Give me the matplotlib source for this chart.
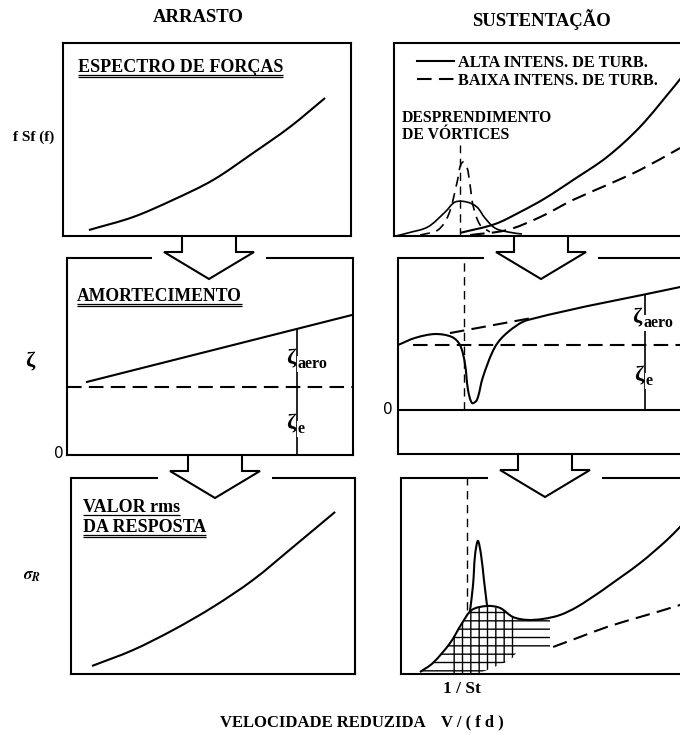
import matplotlib.pyplot as plt
import numpy as np
from matplotlib.path import Path
from matplotlib.patches import PathPatch
from matplotlib.lines import Line2D

plt.rcParams['font.family'] = 'Liberation Serif'
plt.rcParams['font.weight'] = 'bold'
plt.rcParams['mathtext.fontset'] = 'stix'
plt.rcParams['hatch.linewidth'] = 1.0

# reduced velocity of vortex shedding (1/St)
V_ST = 2.3

# ---- ARRASTO (drag) ----
drag_force_v = [0.90, 2.43, 3.82, 5.21, 6.60, 7.88, 9.10]
drag_force_s = [0.31, 0.98, 1.87, 2.90, 4.30, 5.65, 7.15]

drag_damp_v = [0.70, 10.0]
drag_damp_z = [3.71, 7.12]
drag_struct_z = 3.45
drag_marker_v = 8.04

drag_resp_v = [0.74, 2.18, 3.59, 5.00, 6.41, 7.82, 9.30]
drag_resp_s = [0.41, 1.22, 2.24, 3.42, 4.80, 6.48, 8.27]

# ---- SUSTENTAÇÃO (lift) ----
# force spectrum: shedding hump and buffeting part, high / low turbulence
lift_hump_hi_v = [0.07, 0.49, 1.18, 1.78, 2.13, 2.54, 2.89, 3.17, 3.52, 3.97, 4.46]
lift_hump_hi_s = [0.00, 0.16, 0.47, 1.24, 1.76, 1.76, 1.50, 0.93, 0.41, 0.21, 0.10]
lift_peak_lo_v = [0.91, 1.53, 1.90, 2.20, 2.30, 2.40, 2.54, 2.65, 2.75, 3.00, 3.34]
lift_peak_lo_s = [0.05, 0.31, 1.10, 2.80, 3.58, 3.83, 3.58, 2.64, 1.61, 0.57, 0.21]
lift_buff_hi_v = [2.30, 3.52, 4.39, 5.26, 6.24, 7.42, 8.57, 9.72, 10.0]
lift_buff_hi_s = [0.16, 0.62, 1.24, 1.95, 2.90, 4.09, 5.65, 7.67, 8.19]
lift_buff_lo_v = [2.65, 3.94, 5.09, 6.24, 7.42, 8.57, 9.97]
lift_buff_lo_s = [0.05, 0.31, 0.98, 1.87, 2.64, 3.42, 4.56]

# damping
lift_damp_v = [0.00, 0.59, 1.29, 1.88, 2.16, 2.33, 2.44, 2.58, 2.75, 2.96, 3.38, 3.83, 4.53, 10.0]
lift_damp_z = [5.56, 5.92, 6.12, 5.97, 5.56, 4.64, 3.27, 2.60, 2.76, 3.93, 5.46, 6.22, 6.84, 8.57]
lift_damp_lo_v = [1.81, 4.67]
lift_damp_lo_z = [6.17, 6.94]
lift_struct_z = 5.56
lift_zero_z = 2.24
lift_marker_v = 8.61

# rms response
lift_resp_hi_v = [0.66, 1.11, 1.71, 2.13, 2.47, 3.00, 3.45, 3.90, 4.39, 4.95, 5.54,
                  6.13, 6.93, 7.18, 8.33, 9.27, 9.72, 10.0]
lift_resp_hi_s = [0.10, 0.56, 1.58, 2.60, 3.27, 3.47, 3.37, 2.91, 2.76, 2.81, 3.01,
                  3.42, 4.18, 4.44, 5.66, 6.84, 7.50, 7.91]
lift_spike_v = [2.40, 2.51, 2.58, 2.68, 2.79, 2.89, 3.00]
lift_spike_s = [3.16, 4.54, 6.07, 6.79, 6.07, 4.80, 3.47]
lift_resp_lo_v = [5.30, 6.24, 7.18, 8.33, 9.72, 10.0]
lift_resp_lo_s = [1.38, 1.89, 2.40, 2.91, 3.52, 3.70]

# hatched band under the shedding response
hatch_v = [0.66, 1.11, 1.71, 2.13, 2.47, 2.65, 3.00, 3.45, 3.80, 3.90, 4.04, 4.39, 4.95, 5.19]
hatch_top = [0.10, 0.56, 1.58, 2.60, 3.27, 3.38, 3.47, 3.37, 3.05, 2.91, 2.86, 2.76, 2.81, 2.90]
hatch_bot = [0.00, 0.00, 0.00, 0.00, 0.00, 0.00, 0.20, 0.48, 0.71, 0.85, 1.12, 1.20, 1.30, 1.33]

W, H = 680, 733
LW = 1.5
DASH = (0, (7, 3.5))
FINE_DASH = (0, (6, 4))

fig = plt.figure(figsize=(W / 100, H / 100), dpi=100)


def panel(x0, y0, x1, y1, top=True, right=True):
    ax = fig.add_axes([x0 / W, 1 - y1 / H, (x1 - x0) / W, (y1 - y0) / H])
    ax.set_xlim(0, 10)
    ax.set_ylim(0, 10)
    ax.set_xticks([])
    ax.set_yticks([])
    for s in ax.spines.values():
        s.set_linewidth(LW)
    ax.spines['top'].set_visible(top)
    ax.spines['right'].set_visible(right)
    ax.patch.set_alpha(0)
    return ax


def smooth(ax, v, s, lw=LW, ls='-'):
    # chord-length Catmull-Rom through the points, as cubic Bezier segments
    p = np.column_stack([v, s]).astype(float)
    q = p * [1.47, 1.0]          # roughly equal pixel scale for both axes
    t = np.concatenate([[0], np.cumsum(np.hypot(*np.diff(q, axis=0).T))])
    n = len(p)
    tang = np.zeros_like(p)
    for i in range(n):
        a, b = max(i - 1, 0), min(i + 1, n - 1)
        tang[i] = (p[b] - p[a]) / (t[b] - t[a])
    verts = [p[0]]
    codes = [Path.MOVETO]
    for i in range(n - 1):
        h = (t[i + 1] - t[i]) / 3
        verts += [p[i] + tang[i] * h, p[i + 1] - tang[i + 1] * h, p[i + 1]]
        codes += [Path.CURVE4] * 3
    ax.add_patch(PathPatch(Path(verts, codes), fill=False, edgecolor='k',
                           lw=lw, ls=ls, capstyle='butt'))


tl = panel(63, 43, 351, 236)
tr = panel(394, 43, 681, 236, right=False)
ml = panel(67, 258, 353, 455, top=False)
mr = panel(398, 258, 685, 454, top=False, right=False)
bl = panel(71, 478, 355, 674, top=False)
br = panel(401, 478, 688, 674, top=False, right=False)

# drag column
smooth(tl, drag_force_v, drag_force_s)

ml.plot(drag_damp_v, drag_damp_z, 'k-', lw=LW)
ml.axhline(drag_struct_z, color='k', lw=LW, ls=DASH)
ml.plot([drag_marker_v] * 2, [0, np.interp(drag_marker_v, drag_damp_v, drag_damp_z)],
        'k-', lw=1.2)

smooth(bl, drag_resp_v, drag_resp_s)

# lift column
smooth(tr, lift_buff_hi_v, lift_buff_hi_s)
smooth(tr, lift_buff_lo_v, lift_buff_lo_s, ls=DASH)
smooth(tr, lift_hump_hi_v, lift_hump_hi_s, lw=1.2)
smooth(tr, lift_peak_lo_v, lift_peak_lo_s, lw=1.2, ls=FINE_DASH)
tr.plot([V_ST, V_ST], [0, 4.72], 'k', ls=FINE_DASH, lw=1.0)
tr.legend([Line2D([], [], color='k', lw=LW), Line2D([], [], color='k', lw=LW, ls=DASH)],
          ['ALTA INTENS. DE TURB.', 'BAIXA INTENS. DE TURB.'],
          loc='upper left', bbox_to_anchor=((417 - 394) / 287, (236 - 55) / 193),
          frameon=False, fontsize=11.7, handlelength=2.25, handletextpad=0.25,
          labelspacing=0.12, borderpad=0, borderaxespad=0)

smooth(mr, lift_damp_v, lift_damp_z)
mr.plot(lift_damp_lo_v, lift_damp_lo_z, 'k', ls=DASH, lw=LW)
mr.plot([0.52, 10], [lift_struct_z] * 2, 'k', ls=DASH, lw=LW)
mr.axhline(lift_zero_z, color='k', lw=LW)
mr.plot([V_ST, V_ST], [lift_zero_z, 10], 'k', ls=FINE_DASH, lw=1.0)
mr.plot([lift_marker_v] * 2, [lift_zero_z, np.interp(lift_marker_v, lift_damp_v, lift_damp_z)],
        'k-', lw=1.2)

br.fill_between(hatch_v, hatch_bot, hatch_top, facecolor='none', edgecolor='k',
                hatch='--', lw=0)
br.fill_between(hatch_v[2:11], hatch_bot[2:11], hatch_top[2:11], facecolor='none',
                edgecolor='k', hatch='||', lw=0)
smooth(br, lift_resp_hi_v, lift_resp_hi_s)
smooth(br, lift_spike_v, lift_spike_s)
smooth(br, lift_resp_lo_v, lift_resp_lo_s, ls=DASH)
br.plot([V_ST, V_ST], [3.27, 10], 'k', ls=FINE_DASH, lw=1.0)

# overlay in pixel units for arrows, gapped borders and labels
ov = fig.add_axes([0, 0, 1, 1])
ov.set_xlim(0, W)
ov.set_ylim(H, 0)
ov.axis('off')
ov.patch.set_alpha(0)


def arrow(cx, ytop, stem=27, head=45, base=15, tip=42):
    xs = [cx - stem, cx - stem, cx - head, cx, cx + head, cx + stem, cx + stem]
    ys = [ytop, ytop + base, ytop + base, ytop + tip, ytop + base, ytop + base, ytop]
    ov.plot(xs, ys, 'k-', lw=LW, solid_joinstyle='miter')


def gapped_top(x0, x1, y, cx, gap=57):
    ov.plot([x0, cx - gap], [y, y], 'k-', lw=LW, solid_capstyle='butt')
    ov.plot([cx + gap, x1], [y, y], 'k-', lw=LW, solid_capstyle='butt')


arrow(209, 237)
arrow(541, 237)
arrow(215, 456)
arrow(545, 455)
gapped_top(66, 354, 258, 209)
gapped_top(397, 682, 258, 541)
gapped_top(70, 356, 478, 215)
gapped_top(400, 682, 478, 545)

renderer = fig.canvas.get_renderer()


def heading(x, y, s, size=13, double=True):
    t = ov.text(x, y, s, fontsize=size, ha='left', va='baseline')
    bb = t.get_window_extent(renderer)
    offs = [3, 5] if double else [3]
    for d in offs:
        ov.plot([bb.x0, bb.x1], [y + d, y + d], 'k-', lw=0.9, solid_capstyle='butt')


white = dict(facecolor='white', edgecolor='none', pad=0.3)


def zeta(x, y, sub):
    ov.text(x, y, 'ζ', fontsize=16, ha='left', va='center', bbox=white)
    ov.text(x + 11, y + 6, sub, fontsize=11.5, ha='left', va='center', bbox=white)


ov.text(198, 18, 'ARRASTO', fontsize=13.5, ha='center', va='center')
ov.text(541, 20, 'SUSTENTAÇÃO', fontsize=13.5, ha='center', va='center')

heading(78, 72, 'ESPECTRO DE FORÇAS')
heading(77, 301, 'AMORTECIMENTO', size=12.7)
heading(83, 512, 'VALOR rms', double=False)
heading(83, 532, 'DA RESPOSTA')

ov.text(402, 118, 'DESPRENDIMENTO', fontsize=11.3, ha='left', va='center')
ov.text(402, 135, 'DE VÓRTICES', fontsize=11.3, ha='left', va='center')

ov.text(13, 137, 'f Sf (f)', fontsize=11, ha='left', va='center')
ov.text(30, 361, 'ζ', fontsize=16, ha='center', va='center')
ov.text(32, 576, r'$\sigma_R$', fontsize=12, ha='center', va='center')
ov.text(59, 453, '0', fontsize=11, family='DejaVu Sans', weight='normal',
        ha='center', va='center')
ov.text(388, 410, '0', fontsize=11, family='DejaVu Sans', weight='normal',
        ha='center', va='center')

zeta(286, 358, 'aero')
zeta(286, 423, 'e')
zeta(632, 317, 'aero')
zeta(634, 375, 'e')

ov.text(462, 689, '1 / St', fontsize=12.5, ha='center', va='center')
ov.text(220, 722, 'VELOCIDADE REDUZIDA    V / ( f d )', fontsize=12,
        ha='left', va='center')

fig.savefig('out.png', dpi=100)
